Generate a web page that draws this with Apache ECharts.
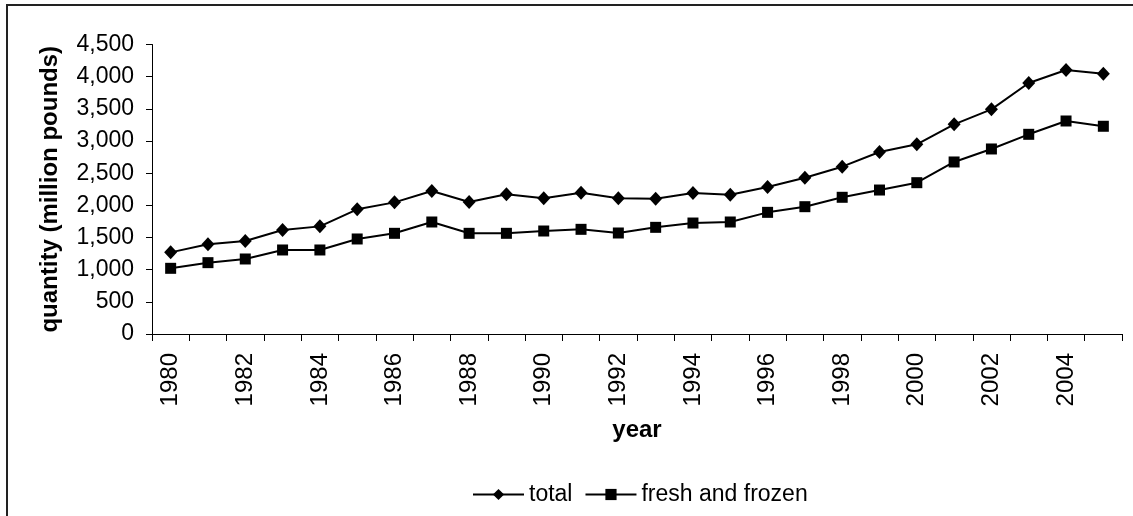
<!DOCTYPE html>
<html>
<head>
<meta charset="utf-8">
<script src="https://cdn.jsdelivr.net/npm/echarts@6/dist/echarts.min.js"></script>
<style>
html,body{margin:0;padding:0;background:#fff;}
#c{width:1133px;height:516px;}
</style>
</head>
<body>
<div id="c"></div>
<script>
const years = ['1980','1981','1982','1983','1984','1985','1986','1987','1988','1989','1990','1991','1992','1993','1994','1995','1996','1997','1998','1999','2000','2001','2002','2003','2004','2005'];
const total = [1269,1394,1445,1616,1673,1938,2046,2222,2052,2171,2109,2197,2109,2103,2192,2166,2285,2430,2601,2829,2948,3259,3492,3902,4104,4047];
const freshFrozen = [1021,1109,1166,1306,1306,1477,1565,1741,1565,1565,1601,1627,1570,1658,1725,1741,1891,1979,2125,2238,2352,2674,2876,3104,3311,3229];
const yTicks = [0,500,1000,1500,2000,2500,3000,3500,4000,4500];

const FONT = "'Liberation Sans', Arial, sans-serif";
const chart = echarts.init(document.getElementById('c'), null, {renderer:'canvas'});
chart.setOption({
  animation: false,
  backgroundColor: '#fff',
  textStyle: {fontFamily: FONT, color: '#000'},
  graphic: [{
    type: 'rect',
    shape: {x: 7, y: 5, width: 1200, height: 600},
    style: {fill: 'none', stroke: '#222', lineWidth: 2},
    silent: true
  }],
  grid: {left: 152, right: 11, top: 44.5, bottom: 182},
  legend: {
    data: ['total', 'fresh and frozen'],
    left: 467,
    top: 478,
    itemWidth: 51,
    itemHeight: 14,
    itemGap: 12,
    textStyle: {fontFamily: FONT, fontSize: 23, color: '#000'}
  },
  xAxis: {
    type: 'category',
    data: years,
    boundaryGap: true,
    name: 'year',
    nameLocation: 'middle',
    nameGap: 84,
    nameTextStyle: {fontFamily: FONT, fontSize: 24, fontWeight: 'bold', color: '#000'},
    axisLine: {lineStyle: {color: '#000', width: 1}},
    axisTick: {show: true, length: 7, interval: 0, lineStyle: {color: '#000'}},
    axisLabel: {rotate: 90, interval: 1, margin: 19, fontFamily: FONT, fontSize: 24, color: '#000'},
    splitLine: {show: false}
  },
  yAxis: {
    type: 'value',
    min: yTicks[0],
    max: yTicks[yTicks.length - 1],
    interval: 500,
    name: 'quantity (million pounds)',
    nameLocation: 'middle',
    nameRotate: 90,
    nameGap: 90,
    nameTextStyle: {fontFamily: FONT, fontSize: 24, fontWeight: 'bold', color: '#000'},
    axisLine: {show: true, lineStyle: {color: '#000', width: 1}},
    axisTick: {show: true, length: 6, lineStyle: {color: '#000'}},
    axisLabel: {margin: 18, fontFamily: FONT, fontSize: 23, color: '#000',
      formatter: v => v.toLocaleString('en-US')},
    splitLine: {show: false}
  },
  series: [
    {
      name: 'total',
      type: 'line',
      data: total,
      symbol: 'diamond',
      symbolSize: [13, 14],
      showAllSymbol: true,
      itemStyle: {color: '#000'},
      lineStyle: {color: '#000', width: 2}
    },
    {
      name: 'fresh and frozen',
      type: 'line',
      data: freshFrozen,
      symbol: 'rect',
      symbolSize: 11,
      showAllSymbol: true,
      itemStyle: {color: '#000'},
      lineStyle: {color: '#000', width: 2}
    }
  ]
});
</script>
</body>
</html>
